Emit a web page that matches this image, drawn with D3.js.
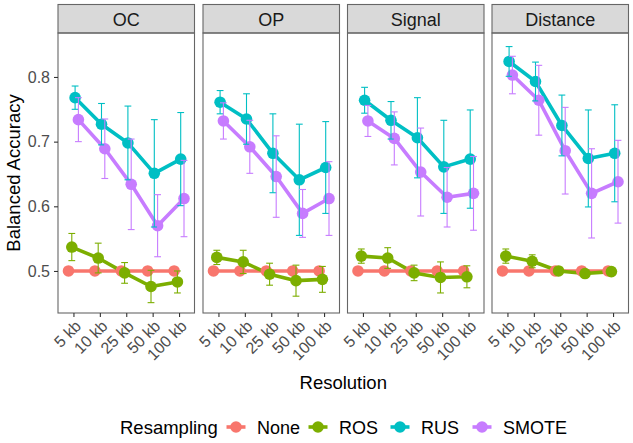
<!DOCTYPE html>
<html>
<head>
<meta charset="utf-8">
<script src="https://cdn.jsdelivr.net/npm/d3@7"></script>
<style>
  html, body { margin: 0; padding: 0; background: #fff; }
  svg { display: block; font-family: "Liberation Sans", Arial, Helvetica, sans-serif; }
</style>
</head>
<body>
<svg id="chart" width="633" height="443"></svg>
<script>
// ---------- data ----------
const facets = ["OC", "OP", "Signal", "Distance"];
const resolutions = ["5 kb", "10 kb", "25 kb", "50 kb", "100 kb"];
const methods = ["None", "ROS", "RUS", "SMOTE"];
const colors = ["#F8766D", "#7CAE00", "#00BFC4", "#C77CFF"];
const yTicks = [0.5, 0.6, 0.7, 0.8];

// mean balanced accuracy, rows = None, ROS, RUS, SMOTE
const ocMean = [
  [0.500, 0.500, 0.500, 0.500, 0.500],
  [0.537, 0.520, 0.497, 0.476, 0.483],
  [0.768, 0.727, 0.698, 0.651, 0.673],
  [0.734, 0.689, 0.634, 0.570, 0.612]
];
const ocErr = [
  [0, 0, 0, 0, 0],
  [0.021, 0.023, 0.016, 0.025, 0.017],
  [0.018, 0.032, 0.057, 0.083, 0.072],
  [0.034, 0.046, 0.070, 0.048, 0.059]
];
const opMean = [
  [0.500, 0.500, 0.500, 0.500, 0.500],
  [0.521, 0.514, 0.495, 0.485, 0.487],
  [0.761, 0.735, 0.682, 0.641, 0.660],
  [0.732, 0.692, 0.646, 0.589, 0.612]
];
const opErr = [
  [0, 0, 0, 0, 0],
  [0.011, 0.018, 0.017, 0.024, 0.020],
  [0.018, 0.039, 0.061, 0.086, 0.071],
  [0.028, 0.041, 0.063, 0.037, 0.057]
];
const signalMean = [
  [0.500, 0.500, 0.500, 0.500, 0.500],
  [0.523, 0.520, 0.497, 0.490, 0.491],
  [0.764, 0.733, 0.706, 0.661, 0.673],
  [0.732, 0.705, 0.653, 0.614, 0.620]
];
const signalErr = [
  [0, 0, 0, 0, 0],
  [0.011, 0.016, 0.012, 0.024, 0.017],
  [0.020, 0.029, 0.062, 0.072, 0.076],
  [0.024, 0.041, 0.068, 0.046, 0.057]
];
const distanceMean = [
  [0.500, 0.500, 0.500, 0.500, 0.500],
  [0.523, 0.515, 0.500, 0.496, 0.499],
  [0.824, 0.793, 0.725, 0.674, 0.682],
  [0.803, 0.764, 0.686, 0.620, 0.638]
];
const distanceErr = [
  [0, 0, 0, 0, 0],
  [0.011, 0.010, 0.003, 0.003, 0.003],
  [0.023, 0.030, 0.047, 0.075, 0.075],
  [0.029, 0.054, 0.067, 0.069, 0.064]
];
const facetMeans = [ocMean, opMean, signalMean, distanceMean];
const facetErrs = [ocErr, opErr, signalErr, distanceErr];

// ---------- layout ----------
const svg = d3.select("#chart");
const panelLefts = [58, 203, 347.5, 492];
const panelW = 136.5;
const stripTop = 4, panelTop = 33, panelBottom = 313;
const dodgeWidth = 0.5;

const y = d3.scaleLinear().domain([0.435, 0.868]).range([panelBottom, panelTop]);
const color = d3.scaleOrdinal().domain(methods).range(colors);

const gridColor = "#4D4D4D";

facets.forEach((facet, fi) => {
  const left = panelLefts[fi];
  const x = d3.scalePoint().domain(resolutions).range([left, left + panelW]).padding(0.585);
  const step = x.step();
  const dodge = i => (i - (methods.length - 1) / 2) * dodgeWidth * step / methods.length;

  const g = svg.append("g");

  // panel background
  g.append("rect").attr("x", left).attr("y", panelTop)
    .attr("width", panelW).attr("height", panelBottom - panelTop)
    .attr("fill", "#fff");

  // strip
  g.append("rect").attr("x", left).attr("y", stripTop + 0.5)
    .attr("width", panelW).attr("height", panelTop - stripTop - 0.5)
    .attr("fill", "#D9D9D9").attr("stroke", "#666").attr("stroke-width", 1.1);
  g.append("text").attr("x", left + panelW / 2).attr("y", 26)
    .attr("text-anchor", "middle").attr("font-size", 18).attr("fill", "#1A1A1A")
    .text(facet);

  const means = facetMeans[fi], errs = facetErrs[fi];

  // lines
  methods.forEach((m, mi) => {
    const pts = resolutions.map((r, ri) => [x(r) + dodge(mi), y(means[mi][ri])]);
    g.append("path").attr("d", d3.line()(pts))
      .attr("fill", "none").attr("stroke", color(m)).attr("stroke-width", 3.6)
      .attr("stroke-linejoin", "round");
  });
  // points
  methods.forEach((m, mi) => {
    g.selectAll(null).data(resolutions).enter().append("circle")
      .attr("cx", (r) => x(r) + dodge(mi))
      .attr("cy", (r, ri) => y(means[mi][ri]))
      .attr("r", 5.8).attr("fill", color(m));
  });
  // error bars
  methods.forEach((m, mi) => {
    resolutions.forEach((r, ri) => {
      const e = errs[mi][ri];
      if (e <= 0) return;
      const cx = x(r) + dodge(mi);
      const y1 = y(means[mi][ri] + e), y2 = y(means[mi][ri] - e);
      const capW = 3.4;
      const eg = g.append("g").attr("stroke", color(m)).attr("stroke-width", 1.1).attr("fill", "none");
      eg.append("line").attr("x1", cx).attr("x2", cx).attr("y1", y1).attr("y2", y2);
      eg.append("line").attr("x1", cx - capW).attr("x2", cx + capW).attr("y1", y1).attr("y2", y1);
      eg.append("line").attr("x1", cx - capW).attr("x2", cx + capW).attr("y1", y2).attr("y2", y2);
    });
  });

  // panel border
  g.append("rect").attr("x", left).attr("y", panelTop)
    .attr("width", panelW).attr("height", panelBottom - panelTop)
    .attr("fill", "none").attr("stroke", "#666").attr("stroke-width", 1.1);

  // x axis
  const xAxis = g.append("g").attr("transform", `translate(0,${panelBottom})`)
    .call(d3.axisBottom(x).tickSize(4).tickSizeOuter(0));
  xAxis.select(".domain").remove();
  xAxis.selectAll(".tick line").attr("stroke", "#333").attr("stroke-width", 1.1);
  xAxis.selectAll(".tick text")
    .attr("font-size", 16).attr("fill", gridColor)
    .attr("font-family", "Liberation Sans, Arial, sans-serif")
    .attr("text-anchor", "end")
    .attr("y", 0).attr("dy", "0.72em")
    .attr("transform", "translate(0,6) rotate(-45)");

  // y axis on first panel only
  if (fi === 0) {
    const yAxis = g.append("g").attr("transform", `translate(${left},0)`)
      .call(d3.axisLeft(y).tickValues(yTicks).tickFormat(d3.format(".1f")).tickSize(4).tickPadding(4));
    yAxis.select(".domain").remove();
    yAxis.selectAll(".tick line").attr("stroke", "#333").attr("stroke-width", 1.1);
    yAxis.selectAll(".tick text").attr("font-size", 16).attr("fill", gridColor)
      .attr("font-family", "Liberation Sans, Arial, sans-serif");
  }
});

// axis titles
svg.append("text").attr("transform", `translate(20,${(panelTop + panelBottom) / 2}) rotate(-90)`)
  .attr("text-anchor", "middle").attr("font-size", 18.5).attr("fill", "#000")
  .text("Balanced Accuracy");
svg.append("text").attr("x", (panelLefts[0] + panelLefts[3] + panelW) / 2).attr("y", 389)
  .attr("text-anchor", "middle").attr("font-size", 18.5).attr("fill", "#000")
  .text("Resolution");

// legend
const legY = 427;
svg.append("text").attr("x", 120).attr("y", legY + 7).attr("font-size", 18.5).attr("fill", "#000")
  .text("Resampling");
methods.forEach((m, mi) => {
  const kx = 236 + mi * 82;
  const lg = svg.append("g");
  lg.append("line").attr("x1", kx - 9.5).attr("x2", kx + 9.5).attr("y1", legY).attr("y2", legY)
    .attr("stroke", color(m)).attr("stroke-width", 3.6);
  lg.append("circle").attr("cx", kx).attr("cy", legY).attr("r", 5.8).attr("fill", color(m));
  lg.append("text").attr("x", kx + 21).attr("y", legY + 6.5).attr("font-size", 18).attr("fill", "#000")
    .text(m);
});
</script>
</body>
</html>
